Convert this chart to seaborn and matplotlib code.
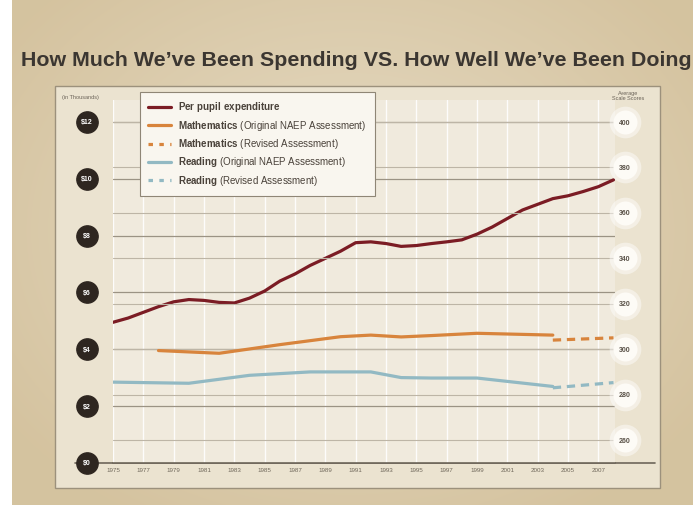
import numpy as np
import pandas as pd
import matplotlib
matplotlib.use("Agg")
import matplotlib.pyplot as plt
import matplotlib.transforms as mtransforms
import seaborn as sns
from matplotlib.patches import Rectangle
from matplotlib.lines import Line2D

# Data
spend_years = list(range(1975, 2009))
spend_values = [4.95, 5.1, 5.3, 5.5, 5.67, 5.75, 5.72, 5.65, 5.63, 5.8,
                6.05, 6.4, 6.65, 6.95, 7.2, 7.45, 7.75, 7.78, 7.72, 7.62,
                7.65, 7.72, 7.78, 7.85, 8.05, 8.3, 8.6, 8.9, 9.1, 9.3,
                9.4, 9.55, 9.72, 9.96]

math_years = [1978, 1982, 1986, 1990, 1992, 1994, 1996, 1999, 2004]
math_scores = [299.4, 298.2, 302.0, 305.5, 306.2, 305.4, 306.0, 307.0, 306.2]
math_rev_years = [2004, 2008]
math_rev_scores = [304.0, 305.0]

read_years = [1975, 1980, 1984, 1988, 1990, 1992, 1994, 1996, 1999, 2004]
read_scores = [285.5, 285.0, 288.5, 290.0, 290.0, 290.0, 287.5, 287.3, 287.3, 283.6]
read_rev_years = [2004, 2008]
read_rev_scores = [283.0, 285.3]

left_ticks = [0, 2, 4, 6, 8, 10, 12]
right_ticks = [260, 280, 300, 320, 340, 360, 380, 400]
year_ticks = list(range(1975, 2008, 2))

SPEND = "#7b1c24"
MATH = "#d8843c"
READ = "#92b9c3"

sns.set_style("white")
plt.rcParams["font.family"] = ["Liberation Sans", "DejaVu Sans"]
plt.rcParams["mathtext.fontset"] = "custom"
plt.rcParams["mathtext.bf"] = "Liberation Sans:bold"
plt.rcParams["mathtext.rm"] = "Liberation Sans"

W, H = 693, 521
fig = plt.figure(figsize=(6.93, 5.21), dpi=100)


def fx(px):
    return px / W


def fy(py):
    return 1 - py / H


# background with soft radial gradient
bg = fig.add_axes([0, 0, 1, 1])
bg.set_xlim(0, W)
bg.set_ylim(H, 0)
bg.axis("off")
yy, xx = np.mgrid[0:H, 0:W]
d = np.sqrt(((xx - 350) / 420.0) ** 2 + ((yy - 230) / 330.0) ** 2)
d = np.clip(d, 0, 1)[..., None]
light = np.array([0.905, 0.862, 0.772])
dark = np.array([0.835, 0.765, 0.625])
img = light * (1 - d) + dark * d
bg.imshow(img, extent=(0, W, H, 0), aspect="auto", zorder=0)
bg.add_patch(Rectangle((0, 0), 12, H, fc="white", ec="none", zorder=1))
bg.add_patch(Rectangle((0, 505), W, 16, fc="white", ec="none", zorder=1))
bg.add_patch(Rectangle((55, 86), 605, 402, fc="#ebe3d0", ec="#9c917c", lw=1.0, zorder=2))
bg.plot([75, 655], [462.5, 462.5], color="#6e665a", lw=1.2, zorder=3)

fig.text(fx(356), fy(60), "How Much We\u2019ve Been Spending VS. How Well We\u2019ve Been Doing",
         ha="center", va="center", fontsize=15.4, fontweight="bold", color="#3b3631")

# main axes
ax1 = fig.add_axes([fx(113), fy(463), 502 / W, 363 / H])
ax1.set_facecolor("#f0eadd")
ax1.set_xlim(1975, 2008.1)
ax1.set_ylim(0, 12.77)
ax2 = ax1.twinx()
ax2.set_ylim(249.9, 409.7)

ax1.grid(axis="x", color="white", lw=1.0, alpha=0.9)
ax1.grid(axis="y", visible=False)
ax2.grid(False)
for v in left_ticks[1:]:
    ax1.axhline(v, color="#9b9384", lw=0.9, zorder=1)
for v in right_ticks:
    ax2.axhline(v, color="#bdb5a6", lw=0.8, zorder=1)

spend_df = pd.DataFrame({"year": spend_years, "value": spend_values})
sns.lineplot(data=spend_df, x="year", y="value", ax=ax1, color=SPEND, lw=2.3, zorder=5)

math_df = pd.DataFrame({"year": math_years, "score": math_scores})
math_rev_df = pd.DataFrame({"year": math_rev_years, "score": math_rev_scores})
read_df = pd.DataFrame({"year": read_years, "score": read_scores})
read_rev_df = pd.DataFrame({"year": read_rev_years, "score": read_rev_scores})
sns.lineplot(data=math_df, x="year", y="score", ax=ax2, color=MATH, lw=2.3, zorder=4)
sns.lineplot(data=math_rev_df, x="year", y="score", ax=ax2, color=MATH, lw=2.3,
             linestyle=(0, (2.6, 1.8)), zorder=4)
sns.lineplot(data=read_df, x="year", y="score", ax=ax2, color=READ, lw=2.3, zorder=4)
sns.lineplot(data=read_rev_df, x="year", y="score", ax=ax2, color=READ, lw=2.3,
             linestyle=(0, (2.6, 1.8)), zorder=4)

for ax in (ax1, ax2):
    for s in ax.spines.values():
        s.set_visible(False)
    ax.set_xlabel("")
    ax.set_ylabel("")
ax1.spines["bottom"].set_visible(True)
ax1.spines["bottom"].set_color("#6e665a")
ax1.spines["bottom"].set_linewidth(1.2)

ax1.set_xticks(year_ticks)
ax1.set_xticklabels([str(y) for y in year_ticks])
ax1.tick_params(axis="x", length=0, pad=3.6, labelsize=4.5, labelcolor="#6f675a")

# left badges: dark discs behind the tick labels
left_tr = mtransforms.blended_transform_factory(ax1.transAxes, ax1.transData)
ax1.scatter([-26 / 502] * len(left_ticks), left_ticks, s=235, color="#2e2620",
            transform=left_tr, clip_on=False, zorder=6)
ax1.set_yticks(left_ticks)
ax1.set_yticklabels([r"\$%d" % v for v in left_ticks])
ax1.tick_params(axis="y", length=0, pad=18.7, labelsize=5, labelcolor="white")
for lbl in ax1.get_yticklabels():
    lbl.set_ha("center")
    lbl.set_fontweight("bold")
ax1.yaxis.set_zorder(8)

# right badges: white glowing discs
right_tr = mtransforms.blended_transform_factory(ax2.transAxes, ax2.transData)
ax2.scatter([1 + 10 / 502] * len(right_ticks), right_ticks, s=520, color="white",
            alpha=0.45, transform=right_tr, clip_on=False, zorder=6, lw=0)
ax2.scatter([1 + 10 / 502] * len(right_ticks), right_ticks, s=300, color="#fdfbf6",
            transform=right_tr, clip_on=False, zorder=6, lw=0)
ax2.set_yticks(right_ticks)
ax2.set_yticklabels([str(v) for v in right_ticks])
ax2.tick_params(axis="y", length=0, pad=7.2, labelsize=5, labelcolor="#5a5248")
for lbl in ax2.get_yticklabels():
    lbl.set_ha("center")
    lbl.set_fontweight("bold")
ax2.yaxis.set_zorder(8)

fig.text(fx(62), fy(97), "(in Thousands)", ha="left", va="center", fontsize=4, color="#6b6358")
fig.text(fx(628), fy(96), "Average\nScale Scores", ha="center", va="center", fontsize=4,
         color="#6b6358", linespacing=1.0)

handles = [
    Line2D([], [], color=SPEND, lw=2.3),
    Line2D([], [], color=MATH, lw=2.3),
    Line2D([], [], color=MATH, lw=2.3, linestyle=(0, (1.4, 2.0))),
    Line2D([], [], color=READ, lw=2.3),
    Line2D([], [], color=READ, lw=2.3, linestyle=(0, (1.4, 2.0))),
]
labels = [
    r"$\bf{Per\ pupil\ expenditure}$",
    r"$\bf{Mathematics}$ (Original NAEP Assessment)",
    r"$\bf{Mathematics}$ (Revised Assessment)",
    r"$\bf{Reading}$ (Original NAEP Assessment)",
    r"$\bf{Reading}$ (Revised Assessment)",
]
leg = ax2.legend(handles, labels, loc="upper left", bbox_to_anchor=(fx(140), fy(92)),
                 bbox_transform=fig.transFigure, borderaxespad=0, fontsize=7,
                 handlelength=2.3, labelspacing=0.45, fancybox=False, framealpha=1,
                 borderpad=0.85, handletextpad=0.8)
leg.get_frame().set_facecolor("#f9f6ef")
leg.get_frame().set_edgecolor("#8f8676")
leg.get_frame().set_linewidth(0.8)
for t in leg.get_texts():
    t.set_color("#4a423a")
leg.set_zorder(10)

fig.savefig("out.png", dpi=100)
